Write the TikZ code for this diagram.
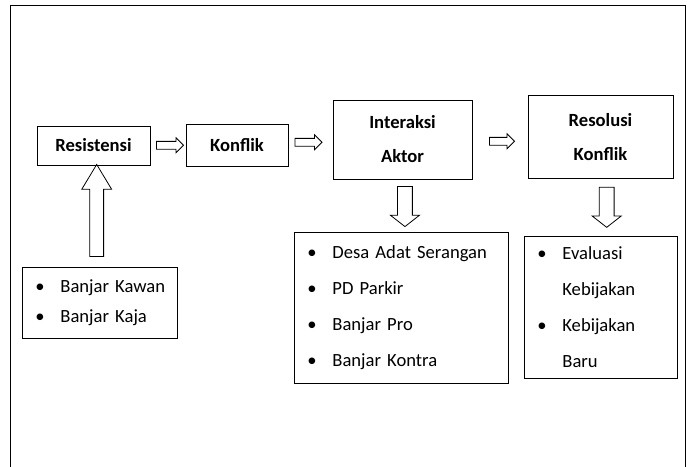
\documentclass[tikz,border=0pt]{standalone}
\usepackage{fontspec}
\setmainfont{Carlito}
\usetikzlibrary{shapes.arrows,calc}
\newcommand{\itm}[1]{\mbox{\makebox[25pt][l]{\textbullet}#1}}

\begin{document}
\begin{tikzpicture}[x=1pt,y=-1pt,
	box/.style={draw, line width=.8pt, inner sep=0pt, align=center, font=\bfseries\fontsize{18.6}{34}\selectfont},
	listbox/.style={draw, line width=.8pt, inner xsep=13pt, inner ysep=0pt, align=left, anchor=north west, font=\fontsize{18.6}{36}\selectfont},
	hollow/.style={single arrow, draw, line width=.8pt, inner sep=0pt, text height=7pt, text depth=0pt, single arrow head extend=3.5pt}]
	\useasboundingbox (0,0) rectangle (696,466);
	\draw[line width=1pt] (10,470) -- (10,5) -- (685,5) -- (685,470);
	\node[box, minimum width=113pt, minimum height=39pt] (res) at (93.5,145.5) {Resistensi};
	\node[box, minimum width=102pt, minimum height=42pt] (konf) at (237,145) {Konflik};
	\node[box, minimum width=139pt, minimum height=79pt] (inter) at (402.5,139.5) {Interaksi\\Aktor};
	\node[box, minimum width=145pt, minimum height=83pt] (resol) at (600.5,137) {Resolusi\\Konflik};
	\node[listbox, minimum width=155pt, minimum height=71pt, text width=129pt, font=\fontsize{18.6}{30}\selectfont] (banjar) at (22,267) {\itm{Banjar Kawan}\\\itm{Banjar Kaja}};
	\node[listbox, minimum width=214pt, minimum height=151pt, text width=188pt] (aktor) at (294,232) {\itm{Desa Adat Serangan}\\\itm{PD Parkir}\\\itm{Banjar Pro}\\\itm{Banjar Kontra}};
	\node[listbox, minimum width=153pt, minimum height=142pt, text width=127pt] (kebij) at (524,236) {\itm{Evaluasi}\\\hspace*{25pt}Kebijakan\\\itm{Kebijakan}\\\hspace*{25pt}Baru};
	\node[hollow, minimum height=27pt] (a1) at ($(res.east)!.5!(konf.west)$) {};
	\node[hollow, minimum height=27pt] (a2) at ($(konf.east)!.5!(inter.west)+(-4,0)$) {};
	\node[hollow, minimum height=25pt] (a3) at ($(inter.east)!.5!(resol.west)+(0,3)$) {};
	\node[hollow, rotate=90, minimum height=92pt, text height=13pt, single arrow head extend=8pt, single arrow tip angle=62] (a4) at ($(res.south)!.5!(banjar.north)$) {};
	\node[hollow, rotate=-90, minimum height=40pt, text height=14pt, single arrow head extend=7pt, single arrow tip angle=104] (a5) at ($(inter.south)!.5!(aktor.north)+(3,-2)$) {};
	\node[hollow, rotate=-90, minimum height=40pt, text height=14pt, single arrow head extend=7pt, single arrow tip angle=104] (a6) at ($(resol.south)!.5!(kebij.north)+(6,-3)$) {};
\end{tikzpicture}
\end{document}
